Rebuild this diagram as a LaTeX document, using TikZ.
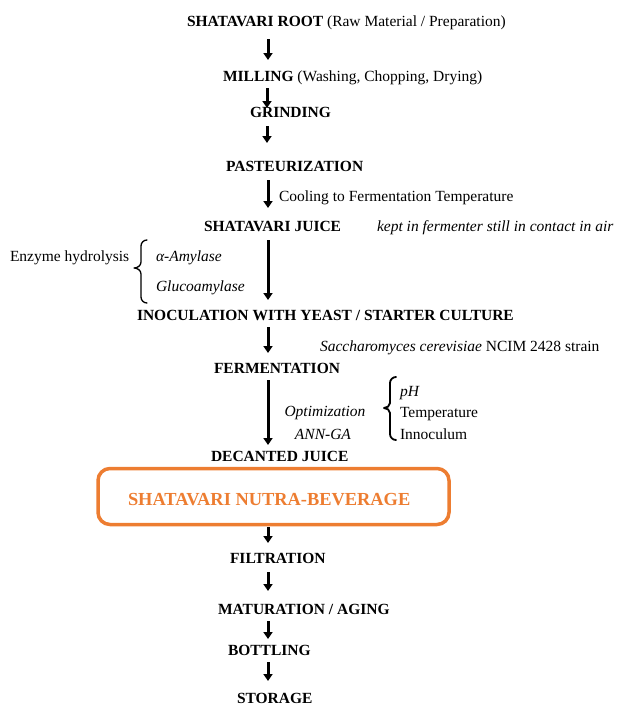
\documentclass[tikz,border=0pt]{standalone}
\usepackage{fontspec}
\setmainfont{Liberation Serif}
\usetikzlibrary{arrows.meta}
\definecolor{orng}{RGB}{237,125,49}
\begin{document}
\begin{tikzpicture}[x=1pt,y=-1pt,
  every node/.style={inner sep=0pt, outer sep=0pt, font=\fontsize{15.5}{18}\selectfont},
  lbl/.style={anchor=base west},
  clbl/.style={anchor=base},
  flow/.style={line width=3pt, -{Triangle[width=9pt,length=7pt]}},
  bracepath/.style={line width=1.3pt, line cap=round, line join=round}]
\useasboundingbox (0,0) rectangle (617,707);

% texts
\node[lbl] (root) at (187,26) {\textbf{SHATAVARI ROOT} (Raw Material / Preparation)};
\node[lbl] (mill) at (223,81) {\textbf{MILLING} (Washing, Chopping, Drying)};
\node[lbl] (grind) at (250,117) {\textbf{GRINDING}};
\node[lbl] (past) at (226,171) {\textbf{PASTEURIZATION}};
\node[lbl] (cool) at (279,201) {Cooling to Fermentation Temperature};
\node[lbl] (juice) at (204,231) {\textbf{SHATAVARI JUICE}};
\node[lbl] (kept) at (377,231) {\textit{kept in fermenter still in contact in air}};
\node[lbl] (enz) at (10,261) {Enzyme hydrolysis};
\node[lbl] (amyl) at (156,261) {\textit{α-Amylase}};
\node[lbl] (gluco) at (156,291) {\textit{Glucoamylase}};
\node[lbl] (inoc) at (137,320) {\textbf{INOCULATION WITH YEAST / STARTER CULTURE}};
\node[lbl] (sacc) at (320,351) {\textit{Saccharomyces cerevisiae} NCIM 2428 strain};
\node[lbl] (ferm) at (214,373) {\textbf{FERMENTATION}};
\node[clbl] (opt) at (325,416) {\textit{Optimization}};
\node[clbl] (ann) at (323,439) {\textit{ANN-GA}};
\node[lbl] (ph) at (400,396) {\textit{pH}};
\node[lbl] (temp) at (400,417) {Temperature};
\node[lbl] (inno) at (400,439) {Innoculum};
\node[lbl] (dec) at (211,461) {\textbf{DECANTED JUICE}};
\node[draw=orng, line width=3.5pt, rounded corners=12pt, minimum width=351pt, minimum height=56pt] (bev) at (273.5,496.5) {};
\node[lbl, text=orng, font=\fontsize{18.4}{22}\selectfont\bfseries] (bevt) at (128,505) {SHATAVARI NUTRA-BEVERAGE};
\node[lbl] (filt) at (230,563) {\textbf{FILTRATION}};
\node[lbl] (mat) at (218,614) {\textbf{MATURATION / AGING}};
\node[lbl] (bott) at (228,655) {\textbf{BOTTLING}};
\node[lbl] (stor) at (237,703) {\textbf{STORAGE}};

% arrows
\coordinate (a1s) at (268,39);  \coordinate (a1e) at (268,60);
\coordinate (a2s) at (267,88);  \coordinate (a2e) at (267,108);
\coordinate (a3s) at (267,126); \coordinate (a3e) at (267,143);
\coordinate (a4s) at (268,180); \coordinate (a4e) at (268,208);
\coordinate (a5s) at (268,240); \coordinate (a5e) at (268,300);
\coordinate (a6s) at (268,327); \coordinate (a6e) at (268,353);
\coordinate (a7s) at (268,380); \coordinate (a7e) at (268,445);
\coordinate (a8s) at (268,527); \coordinate (a8e) at (268,543);
\coordinate (a9s) at (268,572); \coordinate (a9e) at (268,591);
\coordinate (a10s) at (268,621); \coordinate (a10e) at (268,639);
\coordinate (a11s) at (268,662); \coordinate (a11e) at (268,681);
\foreach \i in {1,...,11} \draw[flow] (a\i s) -- (a\i e);

% braces
\draw[bracepath] (147,240) to[out=180,in=90] (141,246) -- (141,262)
  to[out=-90,in=0] (134,268) to[out=0,in=90] (141,274) -- (141,297)
  to[out=-90,in=180] (147,303);
\draw[bracepath, line width=1.8pt] (396,377) to[out=180,in=90] (390,383) -- (390,403)
  to[out=-90,in=0] (384,408) to[out=0,in=90] (390,413) -- (390,434)
  to[out=-90,in=180] (396,440);
\end{tikzpicture}
\end{document}
